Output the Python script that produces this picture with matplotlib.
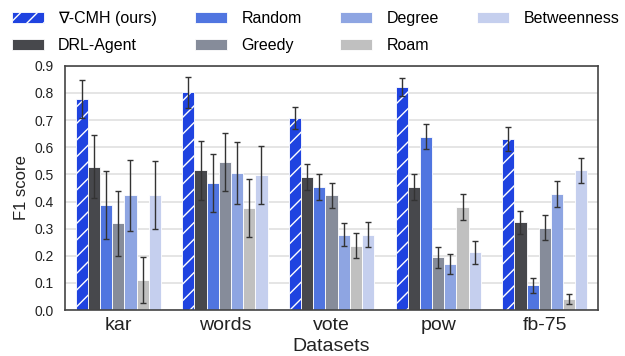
import numpy as np
import matplotlib
matplotlib.use("Agg")
import matplotlib.pyplot as plt

plt.rcParams['font.family'] = ['Liberation Sans', 'DejaVu Sans']
plt.rcParams['hatch.color'] = 'white'
plt.rcParams['hatch.linewidth'] = 1.0

datasets = ["kar", "words", "vote", "pow", "fb-75"]
methods = ["∇-CMH (ours)", "DRL-Agent", "Random", "Greedy", "Degree", "Roam", "Betweenness"]

cmh = [0.777, 0.803, 0.709, 0.823, 0.631]
cmh_err = [0.070, 0.057, 0.040, 0.034, 0.043]
drl = [0.529, 0.515, 0.490, 0.454, 0.323]
drl_err = [0.117, 0.109, 0.047, 0.049, 0.042]
rnd = [0.387, 0.468, 0.455, 0.638, 0.091]
rnd_err = [0.126, 0.107, 0.048, 0.046, 0.028]
greedy = [0.320, 0.546, 0.423, 0.194, 0.304]
greedy_err = [0.120, 0.106, 0.045, 0.039, 0.046]
degree = [0.423, 0.505, 0.278, 0.170, 0.427]
degree_err = [0.130, 0.115, 0.043, 0.037, 0.047]
roam = [0.111, 0.375, 0.237, 0.380, 0.041]
roam_err = [0.085, 0.107, 0.046, 0.047, 0.020]
betw = [0.423, 0.499, 0.278, 0.213, 0.515]
betw_err = [0.126, 0.107, 0.045, 0.043, 0.046]

values = [cmh, drl, rnd, greedy, degree, roam, betw]
errors = [cmh_err, drl_err, rnd_err, greedy_err, degree_err, roam_err, betw_err]
colors = ["#1f43e0", "#47484c", "#5075e0", "#868c9a", "#8ea5e2", "#c0c0c0", "#c5cfee"]
hatches = ["//", None, None, None, None, None, None]

fig = plt.figure(figsize=(6.25, 3.56), dpi=100)
ax = fig.add_axes([0.104, 0.129, 0.853, 0.686])

x = np.arange(len(datasets))
n = len(methods)
w = 0.8 / n
for i, (m, v, e, c, h) in enumerate(zip(methods, values, errors, colors, hatches)):
    pos = x - 0.4 + w * (i + 0.5)
    ax.bar(pos, v, w, color=c, hatch=h, edgecolor='white', linewidth=0.6,
           label=m, zorder=2)
    ax.errorbar(pos, v, yerr=e, fmt='none', ecolor='#333333', elinewidth=1.0,
                capsize=2.5, capthick=1.0, zorder=3)

ax.set_xlim(-0.5, 4.5)
ax.set_ylim(0, 0.9)
ax.set_yticks(np.arange(0, 0.91, 0.1))
ax.set_yticklabels([f"{t:.1f}" for t in np.arange(0, 0.91, 0.1)])
ax.set_xticks(x)
ax.set_xticklabels(datasets, fontsize=14)
ax.tick_params(axis='y', labelsize=10, length=0, pad=8, colors='#222222')
ax.tick_params(axis='x', length=0, pad=5, colors='#222222')
ax.yaxis.grid(True, color='#e3e3e3', linewidth=1.3, zorder=0)
ax.set_axisbelow(True)
for s in ax.spines.values():
    s.set_color('#444444')
    s.set_linewidth(1.2)
ax.set_xlabel("Datasets", fontsize=14, labelpad=3, color='#222222')
ax.set_ylabel("F1 score", fontsize=12, labelpad=4, color='#222222')

fig.legend(loc='upper center', bbox_to_anchor=(0.505, 1.01), ncol=4, frameon=False,
           fontsize=11.5, handlelength=2.0, handletextpad=0.9, columnspacing=2.4,
           labelspacing=0.75)

fig.savefig("out.png", dpi=100)
